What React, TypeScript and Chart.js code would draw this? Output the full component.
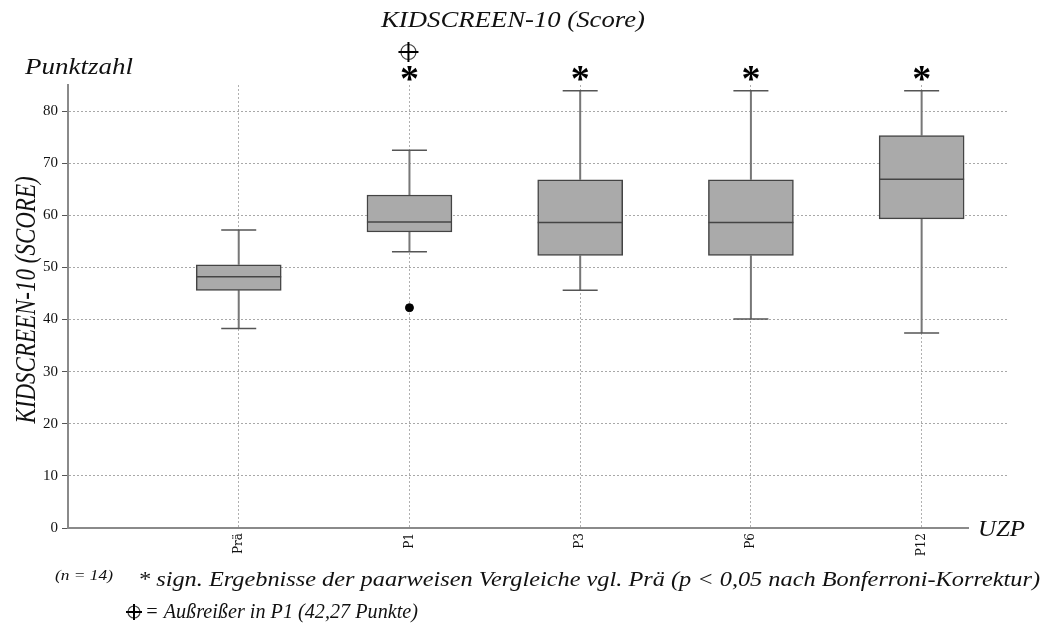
import { useEffect, useRef } from 'react';
import { Chart, registerables } from 'chart.js';

Chart.register(...registerables);

// ---- data ----
const categories = ['Prä', 'P1', 'P3', 'P6', 'P12'];
const whiskerLow = [38.3, 53.0, 45.6, 40.1, 37.4];
const q1 = [45.6, 56.8, 52.3, 52.3, 59.3];
const median = [48.2, 58.7, 58.6, 58.6, 66.9];
const q3 = [50.5, 63.9, 66.8, 66.8, 75.3];
const whiskerHigh = [57.2, 72.5, 83.9, 83.9, 83.9];
const outlierCategory = [1];
const outlierValue = [42.27];
const significant = [false, true, true, true, true];
const yTicks = [0, 10, 20, 30, 40, 50, 60, 70, 80];

const titleText = 'KIDSCREEN-10 (Score)';
const yUnitText = 'Punktzahl';
const yTitleText = 'KIDSCREEN-10 (SCORE)';
const xTitleText = 'UZP';
const nText = '(n = 14)';
const footnote1 = '* sign. Ergebnisse der paarweisen Vergleiche vgl. Prä (p < 0,05 nach Bonferroni-Korrektur)';
const footnote2 = '= Außreißer in P1 (42,27 Punkte)';

const SERIF = '"Liberation Serif", "Times New Roman", serif';

function stretchText(
  ctx: CanvasRenderingContext2D, text: string, x: number, y: number,
  width: number, font: string, align: 'left' | 'center'
) {
  ctx.save();
  ctx.font = font;
  ctx.textAlign = 'left';
  ctx.textBaseline = 'middle';
  const w = ctx.measureText(text).width;
  const sx = width / w;
  const left = align === 'center' ? x - width / 2 : x;
  ctx.translate(left, y);
  ctx.scale(sx, 1);
  ctx.fillText(text, 0, 0);
  ctx.restore();
}

function drawCrossCircle(ctx: CanvasRenderingContext2D, cx: number, cy: number, r: number, arm: number) {
  ctx.save();
  ctx.strokeStyle = '#444';
  ctx.lineWidth = 1.2;
  ctx.beginPath();
  ctx.arc(cx, cy, r, 0, Math.PI * 2);
  ctx.stroke();
  ctx.strokeStyle = '#000';
  ctx.lineWidth = 2;
  ctx.beginPath();
  ctx.moveTo(cx - arm, cy);
  ctx.lineTo(cx + arm, cy);
  ctx.moveTo(cx, cy - arm);
  ctx.lineTo(cx, cy + arm);
  ctx.stroke();
  ctx.restore();
}

const boxPlugin = {
  id: 'boxWhiskers',
  beforeDatasetsDraw(chart: any) {
    const { ctx } = chart;
    const xs = chart.scales.x;
    const ys = chart.scales.y;
    ctx.save();
    categories.forEach((_, i) => {
      const x = xs.getPixelForValue(i);
      const yLo = ys.getPixelForValue(whiskerLow[i]);
      const yQ1 = ys.getPixelForValue(q1[i]);
      const yQ3 = ys.getPixelForValue(q3[i]);
      const yHi = ys.getPixelForValue(whiskerHigh[i]);
      ctx.strokeStyle = '#777';
      ctx.lineWidth = 2;
      ctx.beginPath();
      ctx.moveTo(x, yQ3);
      ctx.lineTo(x, yHi);
      ctx.moveTo(x, yQ1);
      ctx.lineTo(x, yLo);
      ctx.stroke();
      ctx.strokeStyle = '#555';
      ctx.lineWidth = 1.5;
      ctx.beginPath();
      ctx.moveTo(x - 17.5, yHi);
      ctx.lineTo(x + 17.5, yHi);
      ctx.moveTo(x - 17.5, yLo);
      ctx.lineTo(x + 17.5, yLo);
      ctx.stroke();
    });
    ctx.restore();
  },
  afterDatasetsDraw(chart: any) {
    const { ctx } = chart;
    const xs = chart.scales.x;
    const ys = chart.scales.y;
    ctx.save();
    ctx.strokeStyle = '#444';
    ctx.lineWidth = 1.5;
    categories.forEach((_, i) => {
      const x = xs.getPixelForValue(i);
      const ym = ys.getPixelForValue(median[i]);
      ctx.beginPath();
      ctx.moveTo(x - 42.5, ym);
      ctx.lineTo(x + 42.5, ym);
      ctx.stroke();
    });
    ctx.restore();
  },
  afterDraw(chart: any) {
    const { ctx } = chart;
    const xs = chart.scales.x;
    ctx.save();
    ctx.fillStyle = '#111';
    stretchText(ctx, titleText, 513, 21, 264, `italic 24px ${SERIF}`, 'center');
    stretchText(ctx, yUnitText, 25, 68, 108, `italic 24px ${SERIF}`, 'left');
    // y title (rotated, glyphs stretched horizontally on page)
    ctx.save();
    ctx.translate(27, 300);
    ctx.scale(1.25, 1);
    ctx.rotate(-Math.PI / 2);
    ctx.textAlign = 'center';
    ctx.textBaseline = 'middle';
    ctx.font = `italic 23px ${SERIF}`;
    ctx.fillText(yTitleText, 0, 0);
    ctx.restore();
    // UZP
    ctx.fillStyle = '#fff';
    ctx.fillRect(969, 516, 72, 26);
    ctx.fillStyle = '#111';
    stretchText(ctx, xTitleText, 978, 530, 47, `italic 24px ${SERIF}`, 'left');
    // significance asterisks
    ctx.font = `bold 38px ${SERIF}`;
    ctx.textAlign = 'center';
    ctx.textBaseline = 'alphabetic';
    ctx.fillStyle = '#000';
    significant.forEach((s, i) => {
      if (!s) return;
      ctx.fillText('*', xs.getPixelForValue(i), 91);
    });
    // outlier marker above P1
    outlierCategory.forEach((c) => {
      drawCrossCircle(ctx, xs.getPixelForValue(c) - 1, 52, 7.5, 10);
    });
    // footnotes
    ctx.fillStyle = '#111';
    stretchText(ctx, nText, 55, 576, 58, `italic 14px ${SERIF}`, 'left');
    stretchText(ctx, footnote1, 138, 580, 902, `italic 22px ${SERIF}`, 'left');
    drawCrossCircle(ctx, 134, 612, 6, 8);
    stretchText(ctx, footnote2, 145, 612, 273, `italic 21px ${SERIF}`, 'left');
    ctx.restore();
  },
};

export default function App() {
  const ref = useRef<HTMLCanvasElement>(null);
  useEffect(() => {
    if (!ref.current) return;
    const chart = new Chart(ref.current, {
      type: 'bar',
      data: {
        datasets: [
          {
            type: 'bar',
            label: 'Box',
            data: categories.map((_, i) => ({ x: i, y: [q1[i], q3[i]] })) as any,
            backgroundColor: '#aaaaaa',
            borderColor: '#444444',
            borderWidth: 1.5,
            borderSkipped: false,
            barThickness: 85,
          },
          {
            type: 'scatter',
            label: 'Ausreißer',
            data: outlierCategory.map((c, k) => ({ x: c, y: outlierValue[k] })),
            backgroundColor: '#000',
            borderColor: '#000',
            pointRadius: 4,
          } as any,
        ],
      },
      options: {
        animation: false,
        responsive: false,
        layout: { padding: { left: 0, top: 85, right: 36, bottom: 0 } },
        plugins: { legend: { display: false }, tooltip: { enabled: false }, title: { display: false } },
        scales: {
          x: {
            type: 'linear',
            offset: false,
            min: -1,
            max: 4.5,
            afterFit: (s: any) => { s.height = 96; },
            afterBuildTicks: (s: any) => { s.ticks = categories.map((_, i) => ({ value: i })); },
            grid: { color: '#b0b0b0', drawTicks: false, offset: false } as any,
            border: { color: '#8a8a8a', width: 2, dash: [2, 2] },
            ticks: {
              autoSkip: false,
              minRotation: 90,
              maxRotation: 90,
              padding: 5,
              color: '#111',
              font: { family: '"DejaVu Serif", serif', size: 12 },
              callback: (v: any) => categories[v] ?? '',
            },
          },
          y: {
            type: 'linear',
            min: 0,
            max: 85,
            afterFit: (s: any) => { s.width = 68; },
            afterBuildTicks: (s: any) => { s.ticks = yTicks.map((v) => ({ value: v })); },
            grid: { color: '#a8a8a8', tickColor: '#555', tickLength: 6, tickBorderDash: [] } as any,
            border: { color: '#8a8a8a', width: 2, dash: [2, 2] },
            ticks: { padding: 4, color: '#111', font: { family: SERIF, size: 15 } },
          },
        },
      },
      plugins: [boxPlugin],
    });
    return () => chart.destroy();
  }, []);
  return (
    <div style={{ position: 'fixed', left: 0, top: 0, width: 1043, height: 624, background: '#fff' }}>
      <canvas ref={ref} width={1043} height={624} />
    </div>
  );
}
